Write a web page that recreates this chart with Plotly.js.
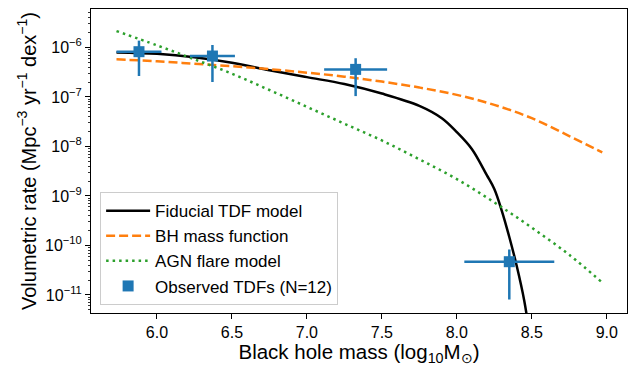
<!DOCTYPE html>
<html>
<head>
<meta charset="utf-8">
<script src="https://cdn.plot.ly/plotly-3.0.1.min.js"></script>
<style>html,body{margin:0;padding:0;background:#fff;}#chart{width:631px;height:366px;}</style>
</head>
<body>
<div id="chart"></div>
<script>
// Fiducial TDF model
const tdfMass = [5.73, 6.0, 6.25, 6.5, 6.75, 7.0, 7.25, 7.5, 7.75, 7.9, 8.0, 8.1, 8.2, 8.25, 8.3, 8.35, 8.4, 8.45, 8.48];
const tdfRate = [7.94e-7, 7.41e-7, 6.31e-7, 4.90e-7, 3.47e-7, 2.51e-7, 1.82e-7, 1.17e-7, 6.61e-8, 3.72e-8, 1.95e-8, 8.91e-9, 2.63e-9, 1.38e-9, 5.01e-10, 1.48e-10, 3.80e-11, 7.59e-12, 2.0e-12];
// BH mass function
const bhmfMass = [5.73, 6.0, 6.25, 6.5, 6.75, 7.0, 7.25, 7.5, 7.75, 8.0, 8.25, 8.5, 8.75, 8.97];
const bhmfRate = [5.75e-7, 5.25e-7, 4.68e-7, 4.17e-7, 3.63e-7, 3.09e-7, 2.57e-7, 2.04e-7, 1.55e-7, 1.10e-7, 6.92e-8, 3.72e-8, 1.62e-8, 7.59e-9];
// AGN flare model
const agnMass = [5.73, 6.0, 6.25, 6.5, 6.75, 7.0, 7.25, 7.5, 7.75, 8.0, 8.25, 8.5, 8.75, 8.97];
const agnRate = [2.14e-6, 1.10e-6, 5.75e-7, 2.95e-7, 1.38e-7, 6.31e-8, 2.88e-8, 1.32e-8, 5.50e-9, 2.19e-9, 7.41e-10, 2.29e-10, 6.46e-11, 1.78e-11];
// Observed TDFs (N=12)
const obsMass = [5.88, 6.37, 7.325, 8.35];
const obsMassErr = [0.15, 0.15, 0.21, 0.30];
const obsRate = [8.2e-7, 6.7e-7, 3.6e-7, 4.7e-11];
const obsRateLow = [2.65e-7, 2.0e-7, 1.04e-7, 8.1e-12];
const obsRateHigh = [1.37e-6, 1.12e-6, 6.05e-7, 8.3e-11];
// tick labels
const yTickVals = [1e-11, 1e-10, 1e-9, 1e-8, 1e-7, 1e-6];
const yTickText = ['10<sup>−11</sup>', '10<sup>−10</sup>', '10<sup>−9</sup>', '10<sup>−8</sup>', '10<sup>−7</sup>', '10<sup>−6</sup>'];
const xTickVals = [6.0, 6.5, 7.0, 7.5, 8.0, 8.5, 9.0];
const xTickText = ['6.0', '6.5', '7.0', '7.5', '8.0', '8.5', '9.0'];

const minorVals = [];
for (let e = -12; e <= -5; e++) for (let k = 2; k <= 9; k++) minorVals.push(k * Math.pow(10, e));

const errPlus = obsRate.map((v, i) => obsRateHigh[i] - v);
const errMinus = obsRate.map((v, i) => v - obsRateLow[i]);

const font = 'Liberation Sans, Arial, sans-serif';

const traces = [
  {x: tdfMass, y: tdfRate, mode: 'lines', name: 'Fiducial TDF model',
   line: {color: '#000000', width: 2.5, shape: 'spline', smoothing: 1}},
  {x: bhmfMass, y: bhmfRate, mode: 'lines', name: 'BH mass function',
   line: {color: '#ff7f0e', width: 2.5, dash: '9px,4px', shape: 'spline', smoothing: 1}},
  {x: agnMass, y: agnRate, mode: 'lines', name: 'AGN flare model',
   line: {color: '#2ca02c', width: 2.5, dash: '2.5px,4px', shape: 'spline', smoothing: 1}},
  {x: obsMass, y: obsRate, mode: 'markers', name: 'Observed TDFs (N=12)',
   marker: {symbol: 'square', size: 11, color: '#1f77b4'},
   error_x: {type: 'data', array: obsMassErr, color: '#1f77b4', thickness: 2.5, width: 0},
   error_y: {type: 'data', symmetric: false, array: errPlus, arrayminus: errMinus, color: '#1f77b4', thickness: 2.5, width: 0}}
];

const layout = {
  width: 631, height: 366,
  margin: {l: 91, r: 4, t: 9, b: 53},
  paper_bgcolor: '#ffffff', plot_bgcolor: '#ffffff',
  font: {family: font, size: 16, color: '#000'},
  showlegend: true,
  legend: {x: 0.017, y: 0.026, xanchor: 'left', yanchor: 'bottom',
    bgcolor: 'rgba(255,255,255,0.8)', bordercolor: '#cccccc', borderwidth: 1,
    font: {family: font, size: 17, color: '#000'}, itemwidth: 44},
  xaxis: {range: [5.56, 9.135], showgrid: false, zeroline: false,
    tickmode: 'array', tickvals: xTickVals, ticktext: xTickText,
    ticks: 'outside', ticklen: 5, tickwidth: 1, tickcolor: '#000',
    showline: true, linecolor: '#000', linewidth: 1, mirror: true,
    tickfont: {family: font, size: 16},
    title: {text: 'Black hole mass (log<sub>10</sub>M<sub>⊙</sub>)', font: {family: font, size: 20.5}, standoff: 7}},
  yaxis: {type: 'log', range: [-11.364, -5.224], showgrid: false, zeroline: false,
    tickmode: 'array', tickvals: yTickVals, ticktext: yTickText,
    ticks: 'outside', ticklen: 5, tickwidth: 1, tickcolor: '#000',
    minor: {tickmode: 'array', tickvals: minorVals, ticks: 'outside', ticklen: 2.5, tickwidth: 0.8, tickcolor: '#000', showgrid: false},
    showline: true, linecolor: '#000', linewidth: 1, mirror: true,
    tickfont: {family: font, size: 16},
    title: {text: 'Volumetric rate (Mpc<sup>−3</sup> yr<sup>−1</sup> dex<sup>−1</sup>)', font: {family: font, size: 20}, standoff: 3}}
};

Plotly.newPlot('chart', traces, layout, {displayModeBar: false, staticPlot: true});
</script>
</body>
</html>
